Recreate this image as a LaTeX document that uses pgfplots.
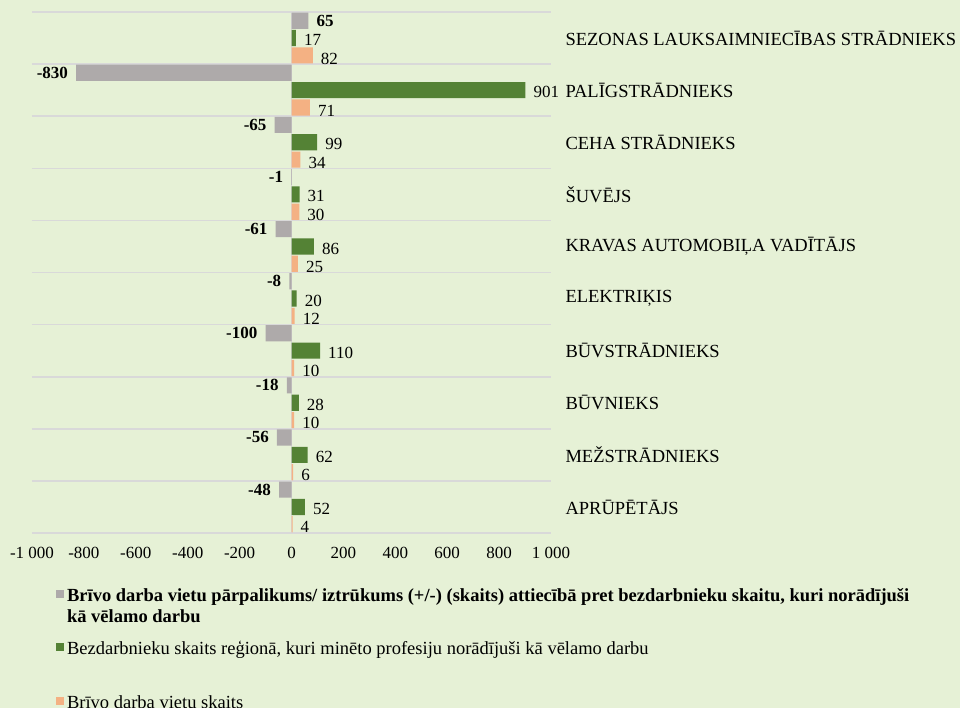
\documentclass[border=0pt]{standalone}
\usepackage{pgfplots}
\pgfplotsset{compat=1.18}
\usepackage{fontspec}
\setmainfont{Liberation Serif}
\definecolor{bg}{RGB}{230,241,214}
\definecolor{gbar}{RGB}{174,170,170}
\definecolor{grn}{RGB}{84,130,53}
\definecolor{org}{RGB}{244,177,131}
\definecolor{gridc}{RGB}{217,217,217}
\pgfplotsset{
  mylegend/.style={legend image code/.code={\fill[##1] (0pt,3.5pt) rectangle (8pt,11.5pt);}},
  lbl/.style={every node near coord/.append style={font=\fontsize{17}{20}\selectfont, text=black, inner xsep=8pt}}
}
\begin{document}
\begin{tikzpicture}
\fill[bg] (0,0) rectangle (960pt,708pt);
\clip (0,0) rectangle (960pt,708pt);
\begin{axis}[
  at={(32pt,175pt)}, anchor=south west,
  scale only axis, width=519pt, height=521pt,
  xmin=-1000, xmax=1000, ymin=-0.5, ymax=9.5,
  y dir=reverse,
  axis line style={draw=none},
  xtick={-1000,-800,-600,-400,-200,0,200,400,600,800,1000},
  ytick={0,1,2,3,4,5,6,7,8,9},
  yticklabels={SEZONAS LAUKSAIMNIECĪBAS STRĀDNIEKS, PALĪGSTRĀDNIEKS, CEHA STRĀDNIEKS, ŠUVĒJS, KRAVAS AUTOMOBIĻA VADĪTĀJS, ELEKTRIĶIS, BŪVSTRĀDNIEKS, BŪVNIEKS, MEŽSTRĀDNIEKS, APRŪPĒTĀJS},
  yticklabel pos=right,
  major tick length=0pt,
  tick style={draw=none},
  extra y ticks={-0.5,0.5,1.5,2.5,3.5,4.5,5.5,6.5,7.5,8.5,9.5},
  extra y tick labels={},
  extra y tick style={grid=major, major grid style={gridc, line width=1.6pt}},
  extra x ticks={0}, extra x tick labels={},
  extra x tick style={grid=major, major grid style={gridc, line width=1.6pt}},
  tick label style={font=\fontsize{17}{20}\selectfont},
  yticklabel style={xshift=11pt, font=\fontsize{18.5}{22}\selectfont},
  xticklabel style={yshift=-11pt},
  /pgf/number format/1000 sep={\ },
  /pgf/number format/assume math mode=true,
  legend style={at={(0.046,-0.102)}, anchor=north west, draw=none, fill=none,
    font=\fontsize{18.5}{21.5}\selectfont, row sep=0pt, column sep=1pt,
    cells={anchor=base west}, nodes={text depth=, text height=}, inner sep=0pt},
]
\addplot[xbar, bar width=0.31, bar shift=-0.333, fill=gbar, draw=none, mylegend, point meta=x,
  nodes near coords={\textbf{\pgfmathprintnumber{\pgfplotspointmeta}}},
  nodes near coords align=horizontal, lbl,
  every node near coord/.append style={yshift=17.4pt}]
  coordinates {(65,0) (-830,1) (-65,2) (-1,3) (-61,4) (-8,5) (-100,6) (-18,7) (-56,8) (-48,9)};
\addlegendentry{\parbox[t]{900pt}{\bfseries Brīvo darba vietu pārpalikums/ iztrūkums (+/-) (skaits) attiecībā pret bezdarbnieku skaitu, kuri norādījuši\\kā vēlamo darbu\rule[-14pt]{0pt}{14pt}}}
\addplot[xbar, bar width=0.31, bar shift=0, fill=grn, draw=none, mylegend, point meta=x,
  nodes near coords={\pgfmathprintnumber{\pgfplotspointmeta}},
  nodes near coords align=horizontal, lbl,
  every node near coord/.append style={yshift=-2pt}]
  coordinates {(17,0) (901,1) (99,2) (31,3) (86,4) (20,5) (110,6) (28,7) (62,8) (52,9)};
\addlegendentry{\parbox[t]{900pt}{Bezdarbnieku skaits reģionā, kuri minēto profesiju norādījuši kā vēlamo darbu\rule[-37pt]{0pt}{37pt}}}
\addplot[xbar, bar width=0.31, bar shift=0.333, fill=org, draw=none, mylegend, point meta=x,
  nodes near coords={\pgfmathprintnumber{\pgfplotspointmeta}},
  nodes near coords align=horizontal, lbl,
  every node near coord/.append style={yshift=-20.4pt}]
  coordinates {(82,0) (71,1) (34,2) (30,3) (25,4) (12,5) (10,6) (10,7) (6,8) (4,9)};
\addlegendentry{\parbox[t]{900pt}{Brīvo darba vietu skaits}}
\end{axis}
\end{tikzpicture}
\end{document}
